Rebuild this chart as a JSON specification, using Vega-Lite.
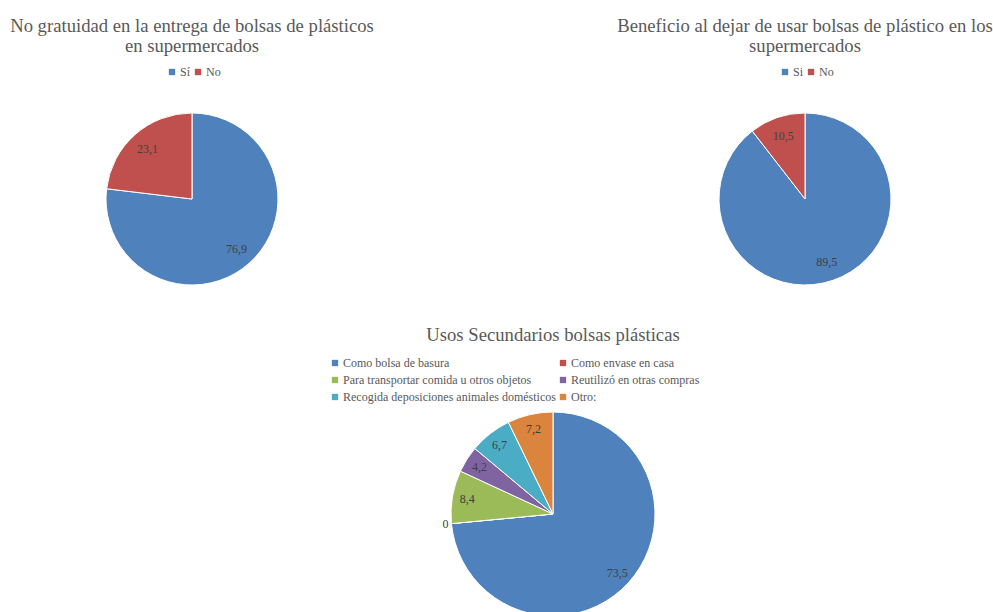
{
  "$schema": "https://vega.github.io/schema/vega-lite/v6.json",
  "padding": {"top": 17, "left": 0, "right": 0, "bottom": 0},
  "background": "white",
  "config": {
    "view": {"stroke": null},
    "font": "Liberation Serif",
    "mark": {"font": "Liberation Serif"},
    "text": {"font": "Liberation Serif"},
    "style": {"guide-label": {"font": "Liberation Serif"}},
    "locale": {"number": {"decimal": ",", "thousands": ".", "grouping": [3], "currency": ["", " €"]}},
    "title": {"font": "Liberation Serif", "fontSize": 18.67, "fontWeight": "normal", "color": "#595959", "anchor": "middle", "frame": "group", "lineHeight": 20, "offset": 10},
    "legend": {"labelFont": "Liberation Serif", "labelFontSize": 12, "labelColor": "#595959", "symbolType": "square", "symbolSize": 40, "symbolStrokeWidth": 0, "labelOffset": 2, "columnPadding": 8, "rowPadding": 5, "labelLimit": 400}
  },
  "datasets": {
    "p1": [
      {"i": 1, "respuesta": "Sí", "valor": 76.9},
      {"i": 2, "respuesta": "No", "valor": 23.1}
    ],
    "p2": [
      {"i": 1, "respuesta": "Si", "valor": 89.5},
      {"i": 2, "respuesta": "No", "valor": 10.5}
    ],
    "p3": [
      {"i": 1, "uso": "Como bolsa de basura", "valor": 73.5},
      {"i": 2, "uso": "Como envase en casa", "valor": 0},
      {"i": 3, "uso": "Para transportar comida u otros objetos", "valor": 8.4},
      {"i": 4, "uso": "Reutilizó en otras compras", "valor": 4.2},
      {"i": 5, "uso": "Recogida deposiciones animales domésticos", "valor": 6.7},
      {"i": 6, "uso": "Otro:", "valor": 7.2}
    ]
  },
  "vconcat": [
    {
      "hconcat": [
        {
          "width": 384, "height": 172,
          "data": {"name": "p1"},
          "title": {"text": ["No gratuidad en la entrega de bolsas de plásticos", "en supermercados"]},
          "encoding": {
            "theta": {"field": "valor", "type": "quantitative", "stack": true},
            "order": {"field": "i", "type": "quantitative"}
          },
          "layer": [
            {
              "mark": {"type": "arc", "outerRadius": 86, "stroke": "white", "strokeWidth": 1},
              "encoding": {
                "color": {"field": "respuesta", "type": "nominal",
                  "scale": {"domain": ["Sí", "No"], "range": ["#4F81BD", "#C0504D"]},
                  "legend": {"orient": "none", "legendX": 166, "legendY": -47, "direction": "horizontal", "title": null, "columnPadding": 1, "labelFont": "Liberation Serif"}}
              }
            },
            {
              "mark": {"type": "text", "radius": 67, "fontSize": 12, "font": "Liberation Serif", "color": "#404040"},
              "encoding": {"text": {"field": "valor", "type": "quantitative", "format": ".1~f"}}
            }
          ]
        },
        {
          "width": 376, "height": 172,
          "data": {"name": "p2"},
          "title": {"text": ["Beneficio al dejar de usar bolsas de plástico en los", "supermercados"]},
          "encoding": {
            "theta": {"field": "valor", "type": "quantitative", "stack": true},
            "order": {"field": "i", "type": "quantitative"}
          },
          "layer": [
            {
              "mark": {"type": "arc", "outerRadius": 86, "stroke": "white", "strokeWidth": 1},
              "encoding": {
                "color": {"field": "respuesta", "type": "nominal",
                  "scale": {"domain": ["Si", "No"], "range": ["#4F81BD", "#C0504D"]},
                  "legend": {"orient": "none", "legendX": 162, "legendY": -47, "direction": "horizontal", "title": null, "columnPadding": 1, "labelFont": "Liberation Serif"}}
              }
            },
            {
              "mark": {"type": "text", "radius": 67, "fontSize": 12, "font": "Liberation Serif", "color": "#404040"},
              "encoding": {"text": {"field": "valor", "type": "quantitative", "format": ".1~f"}}
            }
          ]
        }
      ],
      "spacing": 233,
      "resolve": {"scale": {"color": "independent", "theta": "independent"}}
    },
    {
      "hconcat": [
        {"width": 329, "height": 10, "data": {"values": []}, "mark": "point"},
        {
          "width": 448, "height": 204,
          "data": {"name": "p3"},
          "title": {"text": "Usos Secundarios bolsas plásticas", "offset": 12},
          "encoding": {
            "theta": {"field": "valor", "type": "quantitative", "stack": true},
            "order": {"field": "i", "type": "quantitative"}
          },
          "layer": [
            {
              "mark": {"type": "arc", "outerRadius": 102, "stroke": "white", "strokeWidth": 1},
              "encoding": {
                "color": {"field": "uso", "type": "nominal",
                  "scale": {"domain": ["Como bolsa de basura", "Como envase en casa", "Para transportar comida u otros objetos", "Reutilizó en otras compras", "Recogida deposiciones animales domésticos", "Otro:"],
                            "range": ["#4F81BD", "#C0504D", "#9BBB59", "#8064A2", "#4BACC6", "#DB843D"]},
                  "legend": {"orient": "none", "legendX": 0, "legendY": -55, "columns": 2, "direction": "horizontal", "title": null, "columnPadding": 1, "rowPadding": 5, "labelFont": "Liberation Serif"}}
              }
            },
            {
              "transform": [{"filter": "datum.valor > 0"}],
              "mark": {"type": "text", "radius": 87, "fontSize": 12, "font": "Liberation Serif", "color": "#404040"},
              "encoding": {
                "text": {"field": "valor", "type": "quantitative", "format": ".1~f"}
              }
            },
            {
              "transform": [
                {"stack": "valor", "groupby": [], "sort": [{"field": "i", "order": "ascending"}], "as": ["a0", "a1"]},
                {"filter": "datum.valor == 0"}
              ],
              "mark": {"type": "text", "radius": 108, "fontSize": 12, "font": "Liberation Serif", "color": "#404040"},
              "encoding": {
                "theta": {"field": "a0", "type": "quantitative", "stack": null},
                "text": {"field": "valor", "type": "quantitative", "format": ".1~f"}
              }
            }
          ]
        }
      ],
      "spacing": 0,
      "resolve": {"scale": {"color": "independent", "theta": "independent"}}
    }
  ],
  "spacing": 39,
  "resolve": {"scale": {"color": "independent", "theta": "independent"}}
}
